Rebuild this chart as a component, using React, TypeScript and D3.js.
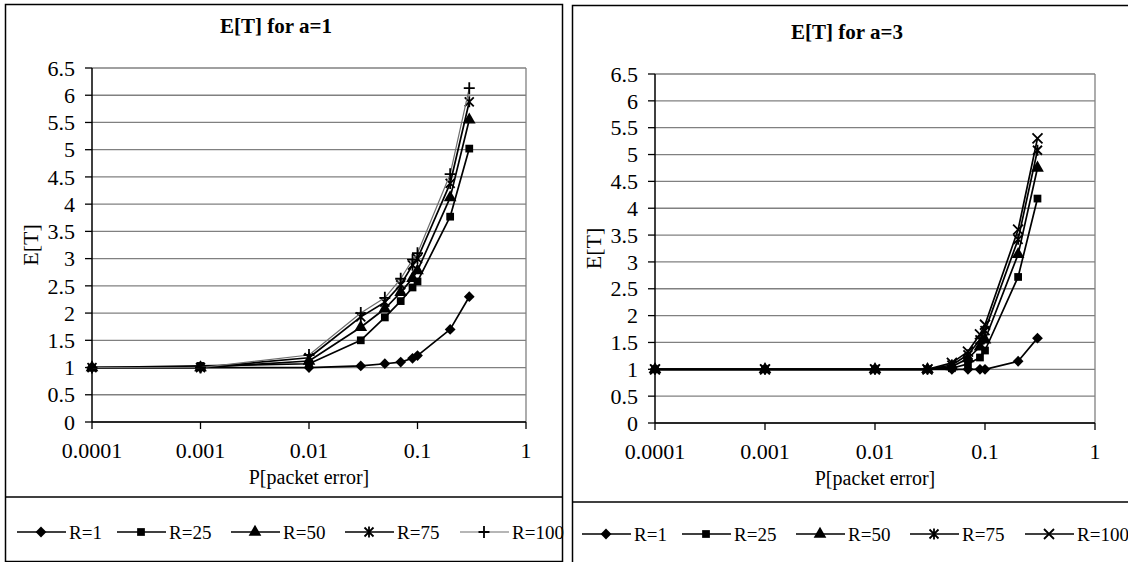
import React from 'react'
import * as d3 from 'd3'

// x values (packet error probability), shared by every series
const pErr = [0.0001, 0.001, 0.01, 0.03, 0.05, 0.07, 0.09, 0.1, 0.2, 0.3]
const seriesNames = ['R=1', 'R=25', 'R=50', 'R=75', 'R=100']

// E[T] for a=1
const a1R1 = [1, 1, 1, 1.03, 1.07, 1.1, 1.17, 1.22, 1.7, 2.3]
const a1R25 = [1, 1.03, 1.07, 1.5, 1.92, 2.22, 2.47, 2.58, 3.77, 5.02]
const a1R50 = [1, 1, 1.12, 1.74, 2.08, 2.38, 2.64, 2.78, 4.12, 5.55]
const a1R75 = [1, 1, 1.18, 1.93, 2.2, 2.52, 2.88, 3.0, 4.38, 5.88]
const a1R100 = [1, 1, 1.23, 2.0, 2.28, 2.63, 2.98, 3.1, 4.55, 6.13]

// E[T] for a=3
const a3R1 = [1, 1, 1, 1, 1, 1, 1, 1, 1.15, 1.58]
const a3R25 = [1, 1, 1, 1, 1.02, 1.1, 1.22, 1.35, 2.72, 4.18]
const a3R50 = [1, 1, 1, 1, 1.05, 1.2, 1.42, 1.55, 3.14, 4.75]
const a3R75 = [1, 1, 1, 1, 1.08, 1.27, 1.55, 1.72, 3.42, 5.08]
const a3R100 = [1, 1, 1, 1, 1.12, 1.33, 1.65, 1.83, 3.6, 5.3]

const xTicks = [0.0001, 0.001, 0.01, 0.1, 1]
const xTickLabels = ['0.0001', '0.001', '0.01', '0.1', '1']
const yTicks = [0, 0.5, 1, 1.5, 2, 2.5, 3, 3.5, 4, 4.5, 5, 5.5, 6, 6.5]

const FONT = "'Liberation Serif', 'DejaVu Serif', serif"

type Shape = 'diamond' | 'square' | 'triangle' | 'asterisk' | 'plus' | 'times'

function markerPath(shape: Shape) {
  switch (shape) {
    case 'diamond': return d3.symbol(d3.symbolSquare, 58)()
    case 'square': return d3.symbol(d3.symbolSquare, 60)()
    case 'triangle': return d3.symbol(d3.symbolTriangle, 70)()
    case 'asterisk': return 'M-4.5,-4.5L4.5,4.5M-4.5,4.5L4.5,-4.5M0,-5.5L0,5.5'
    case 'plus': return 'M-5.5,0L5.5,0M0,-6L0,6'
    case 'times': return 'M-5,-5L5,5M-5,5L5,-5'
  }
}

function Marker({ shape, cx, cy }: { shape: Shape, cx: number, cy: number }) {
  const filled = shape === 'diamond' || shape === 'square' || shape === 'triangle'
  const rot = shape === 'diamond' ? 45 : 0
  return (
    <path
      d={markerPath(shape) as string}
      transform={`translate(${cx},${cy}) rotate(${rot})`}
      fill={filled ? '#000' : 'none'}
      stroke="#000"
      strokeWidth={filled ? 0 : 1.8}
    />
  )
}

const legendOffsets = [0, 100, 214, 328, 443]

function Chart({ frame, plot, divider, legend, title, titleX, data, shapes, colors, widths }: any) {
  const x = d3.scaleLog().domain([0.0001, 1]).range([plot.left, plot.right])
  const y = d3.scaleLinear().domain([0, 6.5]).range([plot.bottom, plot.top])
  const line = d3.line<number>().x((d, i) => x(pErr[i])).y(d => y(d))
  const cx = (plot.left + plot.right) / 2
  const cy = (plot.top + plot.bottom) / 2

  return (
    <g style={{ fontFamily: FONT }} fill="#000">
      <rect x={frame.x} y={frame.y} width={frame.w} height={frame.h} fill="#fff" stroke="#000" strokeWidth={1.5} />
      <line x1={frame.x} x2={frame.x + frame.w} y1={divider} y2={divider} stroke="#000" strokeWidth={1.5} />

      <text x={titleX} y={plot.top - 35} textAnchor="middle" fontSize={21} fontWeight="bold">{title}</text>

      {/* grid */}
      {yTicks.map(t => (
        <line key={t} x1={plot.left} x2={plot.right} y1={y(t)} y2={y(t)} stroke="#808080" strokeWidth={1.3} />
      ))}
      <line x1={plot.right} x2={plot.right} y1={plot.top} y2={plot.bottom} stroke="#808080" strokeWidth={1.3} />

      {/* axes */}
      <line x1={plot.left} x2={plot.left} y1={plot.top} y2={plot.bottom} stroke="#000" strokeWidth={1.5} />
      <line x1={plot.left} x2={plot.right} y1={plot.bottom} y2={plot.bottom} stroke="#000" strokeWidth={1.5} />
      {yTicks.map(t => (
        <g key={t}>
          <line x1={plot.left - 7} x2={plot.left} y1={y(t)} y2={y(t)} stroke="#000" strokeWidth={1.3} />
          <text x={plot.left - 17} y={y(t)} dy="0.35em" textAnchor="end" fontSize={22}>{t}</text>
        </g>
      ))}
      {xTicks.map((t, i) => (
        <g key={t}>
          <line x1={x(t)} x2={x(t)} y1={plot.bottom} y2={plot.bottom + 7} stroke="#000" strokeWidth={1.3} />
          <text x={x(t)} y={plot.bottom + 36} textAnchor="middle" fontSize={22}>{xTickLabels[i]}</text>
        </g>
      ))}
      <text x={cx} y={plot.bottom + 62} textAnchor="middle" fontSize={20}>P[packet error]</text>
      <text transform={`translate(${plot.left - 62},${cy}) rotate(-90)`} textAnchor="middle" fontSize={22} dy="0.35em">E[T]</text>

      {/* series */}
      {data.map((vals: number[], s: number) => (
        <g key={s}>
          <path d={line(vals) as string} fill="none" stroke={colors[s]} strokeWidth={widths[s]} strokeLinejoin="round" />
          {vals.map((v, i) => <Marker key={i} shape={shapes[s]} cx={x(pErr[i])} cy={y(v)} />)}
        </g>
      ))}

      {/* legend */}
      {seriesNames.map((name, s) => {
        const lx = legend.x + legendOffsets[s]
        return (
          <g key={name}>
            <line x1={lx} x2={lx + 49} y1={legend.y} y2={legend.y} stroke={colors[s]} strokeWidth={widths[s]} />
            <Marker shape={shapes[s]} cx={lx + 24} cy={legend.y} />
            <text x={lx + 52} y={legend.y} dy="0.35em" fontSize={19}>{name}</text>
          </g>
        )
      })}
    </g>
  )
}

export default function App() {
  return (
    <svg width={1128} height={562} style={{ position: 'absolute', left: 0, top: 0, background: '#fff' }}>
      <Chart
        frame={{ x: 5.5, y: 4.5, w: 557, h: 557 }}
        plot={{ left: 92, right: 526, top: 68, bottom: 422 }}
        divider={497}
        legend={{ x: 17, y: 532 }}
        title="E[T] for a=1"
        titleX={276}
        data={[a1R1, a1R25, a1R50, a1R75, a1R100]}
        shapes={['diamond', 'square', 'triangle', 'asterisk', 'plus']}
        colors={['#000', '#000', '#000', '#000', '#6e6e6e']}
        widths={[1.7, 1.7, 1.7, 1.7, 1.2]}
      />
      <Chart
        frame={{ x: 572.5, y: 5.5, w: 562, h: 562 }}
        plot={{ left: 655, right: 1095, top: 74, bottom: 423 }}
        divider={502}
        legend={{ x: 582, y: 534 }}
        title="E[T] for a=3"
        titleX={847}
        data={[a3R1, a3R25, a3R50, a3R75, a3R100]}
        shapes={['diamond', 'square', 'triangle', 'asterisk', 'times']}
        colors={['#000', '#000', '#000', '#000', '#000']}
        widths={[1.7, 1.7, 1.7, 1.7, 1.7]}
      />
    </svg>
  )
}
